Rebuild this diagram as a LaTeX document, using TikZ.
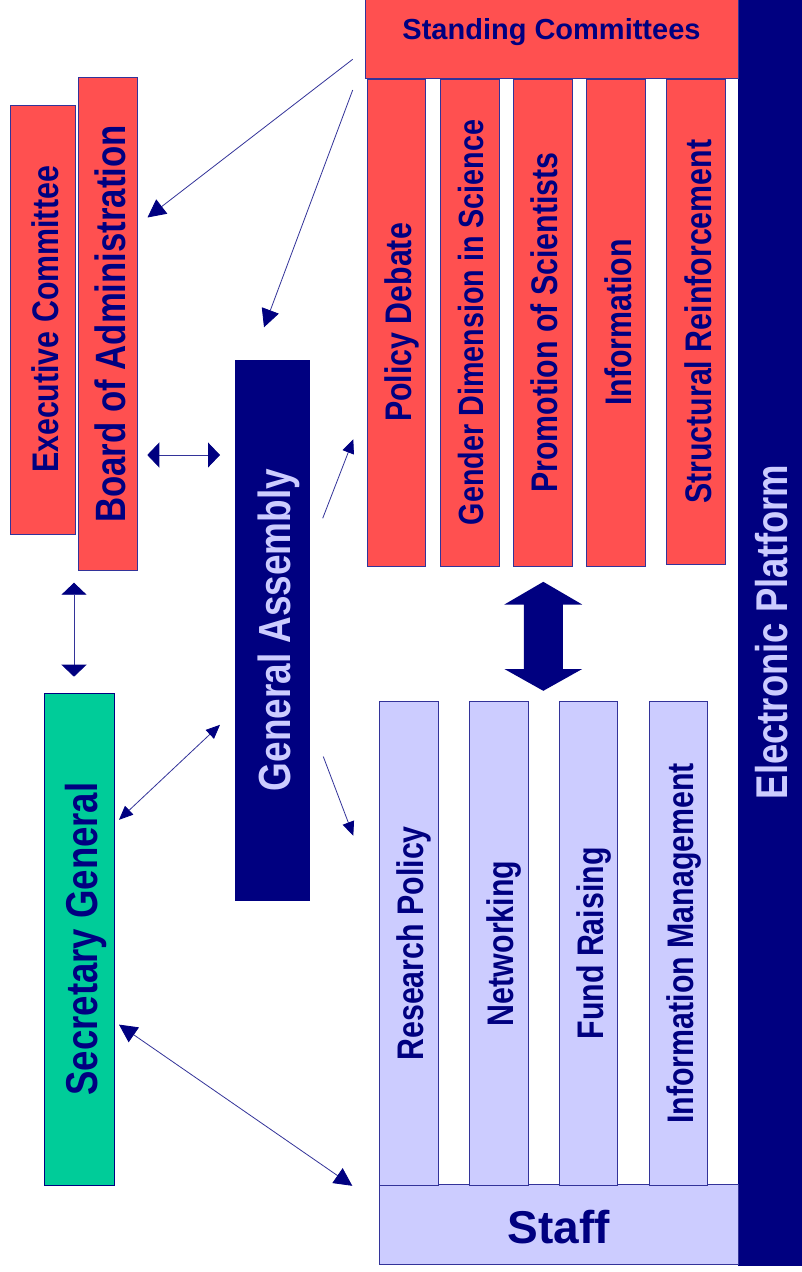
\documentclass[tikz,border=0pt]{standalone}
\usepackage{fontspec}
\setmainfont{Liberation Sans}
\newfontfamily\narrowfont{Liberation Sans}[FakeStretch=0.82]
\usetikzlibrary{positioning,arrows.meta}

\definecolor{navy}{HTML}{000080}
\definecolor{comred}{HTML}{FF5050}
\definecolor{lavender}{HTML}{CCCCFF}
\definecolor{secgreen}{HTML}{00CC99}
\definecolor{edgeblue}{HTML}{333399}

\newcommand{\fs}[1]{\fontsize{#1}{#1}\selectfont}
\newcommand{\bx}[1]{\rule{0pt}{0.8em}\smash{#1}}

\tikzset{
    box/.style={draw=edgeblue, line width=1pt, inner sep=0pt, text=navy},
    redbox/.style={box, fill=comred},
    lavbox/.style={box, fill=lavender},
    navybox/.style={box, draw=navy, fill=navy, text=lavender},
    link/.style={draw=edgeblue, line width=0.8pt},
    bigtip/.tip={Triangle[length=18pt,width=18pt,color=navy]},
    smalltip/.tip={Triangle[length=14pt,width=12pt,color=navy]},
    flattip/.tip={Triangle[length=12pt,width=25pt,color=navy]},
    bighead/.style={link, -bigtip},
    smallhead/.style={link, -smalltip},
    bigboth/.style={link, bigtip-bigtip},
    smallboth/.style={link, smalltip-smalltip},
    flatboth/.style={link, flattip-flattip}
}

\begin{document}
\begin{tikzpicture}[x=1pt,y=-1pt]
\useasboundingbox[fill=white] (0,0) rectangle (801,1272);

% right hand column
\node[navybox, rotate=90, minimum width=1267pt, minimum height=63pt,
    font=\narrowfont\bfseries\fs{44.5}] (ep) at (769.5,632) {\bx{Electronic Platform}};

% standing committees
\node[redbox, minimum width=373pt, minimum height=100.5pt,
    font=\bfseries\fs{29}] (sc) at (551.5,28.25) {\bx{Standing Committees}};
\node[redbox, rotate=90, minimum width=487pt, minimum height=58.5pt,
    font=\narrowfont\bfseries\fs{37}] (pd) at (396.5,322.5) {\bx{Policy Debate}};
\node[redbox, rotate=90, minimum width=487pt, minimum height=59pt,
    font=\narrowfont\bfseries\fs{35}] (gd) at (469.5,322.5) {\bx{Gender Dimension in Science}};
\node[redbox, rotate=90, minimum width=487pt, minimum height=59pt,
    font=\narrowfont\bfseries\fs{37}] (ps) at (542.8,322.5) {\bx{Promotion of Scientists}};
\node[redbox, rotate=90, minimum width=487pt, minimum height=59pt,
    font=\narrowfont\bfseries\fs{37}] (inf) at (616.2,322.5) {\bx{Information}};
\node[redbox, rotate=90, minimum width=485pt, minimum height=59pt,
    font=\narrowfont\bfseries\fs{37}] (sr) at (696.2,321.8) {\bx{Structural Reinforcement}};

% staff
\node[lavbox, minimum width=359pt, minimum height=80pt,
    font=\bfseries\fs{46}] (st) at (558.8,1224.9) {\bx{Staff}};
\node[lavbox, rotate=90, minimum width=483.3pt, minimum height=59pt,
    font=\narrowfont\bfseries\fs{37}] (rp) at (408.8,943.4) {\bx{Research Policy}};
\node[lavbox, rotate=90, minimum width=483.3pt, minimum height=58.6pt,
    font=\narrowfont\bfseries\fs{37}] (nw) at (499,943.4) {\bx{Networking}};
\node[lavbox, rotate=90, minimum width=483.3pt, minimum height=58.4pt,
    font=\narrowfont\bfseries\fs{37}] (fr) at (588.5,943.4) {\bx{Fund Raising}};
\node[lavbox, rotate=90, minimum width=483.3pt, minimum height=58.7pt,
    font=\narrowfont\bfseries\fs{37}] (im) at (678.4,943.4) {\bx{Information Management}};

% governing bodies
\node[redbox, rotate=90, minimum width=429pt, minimum height=65pt,
    font=\narrowfont\bfseries\fs{37}] (ec) at (43.2,319.5) {\bx{Executive Committee}};
\node[redbox, rotate=90, minimum width=492.3pt, minimum height=59pt,
    font=\narrowfont\bfseries\fs{42.4}] (ba) at (108.2,323.9) {\bx{Board of Administration}};
\node[navybox, rotate=90, minimum width=540pt, minimum height=74pt,
    font=\narrowfont\bfseries\fs{45}] (ga) at (272,630) {\bx{General Assembly}};
\node[box, fill=secgreen, draw=navy, rotate=90, minimum width=492pt, minimum height=70pt,
    font=\narrowfont\bfseries\fs{44.6}] (sg) at (79.3,939) {\bx{Secretary General}};

% arrow ends
\coordinate (sc-a) at (352.7,59.3);
\coordinate (sc-b) at (352.7,90);
\coordinate (ba-a) at (147.5,217.5);
\coordinate (ga-a) at (264,327.3);
\coordinate (ba-r) at (147.3,455);
\coordinate (ga-l) at (220,455);
\coordinate (ba-d) at (74,582.7);
\coordinate (sg-u) at (74,676.7);
\coordinate (ga-r) at (322.7,518.3);
\coordinate (pd-l) at (353.3,439.3);
\coordinate (sg-r) at (119,819.8);
\coordinate (ga-d) at (220,724.8);
\coordinate (ga-s) at (323.3,756.6);
\coordinate (rp-l) at (353.3,835.7);
\coordinate (sg-s) at (119,1024.6);
\coordinate (st-l) at (352.3,1185.8);
\coordinate (big-u) at (543.3,581.8);
\coordinate (big-d) at (543.3,690.8);

\draw[bighead] (sc-a) -- (ba-a);
\draw[bighead] (sc-b) -- (ga-a);
\draw[flatboth] (ba-r) -- (ga-l);
\draw[flatboth] (ba-d) -- (sg-u);
\draw[smallhead] (ga-r) -- (pd-l);
\draw[smallboth] (sg-r) -- (ga-d);
\draw[smallhead] (ga-s) -- (rp-l);
\draw[bigboth] (sg-s) -- (st-l);

% committees <-> staff
\fill[navy] (big-u) -- ++(38.9,22.7) -- ++(-19.4,0) -- ++(0,64.5) -- ++(19.4,0)
    -- (big-d) -- ++(-38.9,-21.8) -- ++(19.4,0) -- ++(0,-64.5) -- ++(-19.4,0) -- cycle;
\end{tikzpicture}
\end{document}
